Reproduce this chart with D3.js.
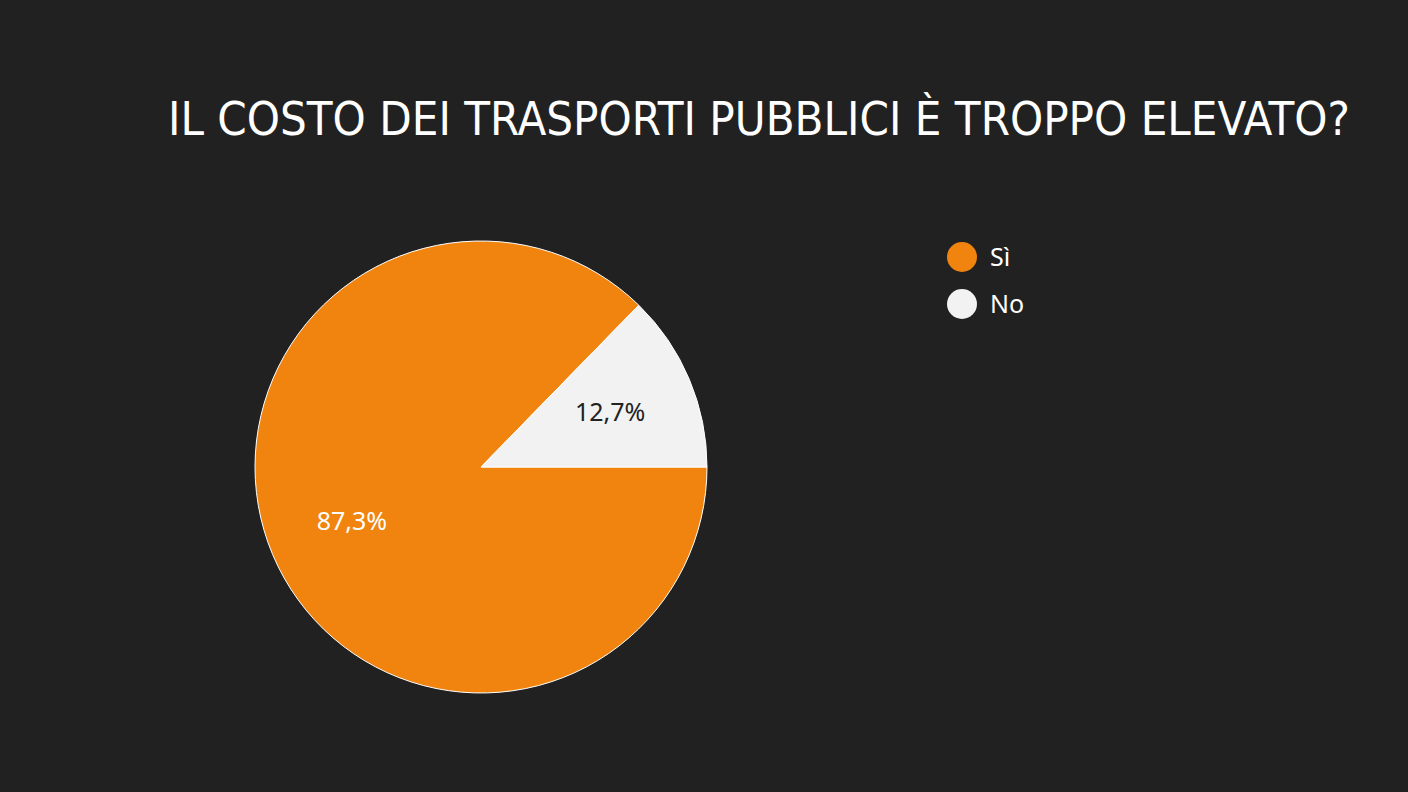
<!DOCTYPE html>
<html><head><meta charset="utf-8">
<script src="https://cdn.jsdelivr.net/npm/d3@7"></script>
<style>body{margin:0;background:#212121}</style></head>
<body><svg id="c" width="1408" height="792"></svg>
<script>
const categories=["Sì","No"];
const values=[87.3,12.7];
const labels=["87,3%","12,7%"];
const colors=["#F0840F","#F2F2F2"];
const svg=d3.select("#c");
svg.append("rect").attr("width",1408).attr("height",792).attr("fill","#212121");
svg.append("text").attr("x",168).attr("y",135).attr("fill","#fff")
 .attr("font-family","'Liberation Sans Narrow','DejaVu Sans Condensed',sans-serif")
 .attr("font-size",46).attr("textLength",1182).attr("lengthAdjust","spacingAndGlyphs")
 .text("IL COSTO DEI TRASPORTI PUBBLICI È TROPPO ELEVATO?");
const cx=481,cy=467,r=226;
const pie=d3.pie().sort(null).startAngle(Math.PI/2).endAngle(Math.PI/2+2*Math.PI);
const arcs=pie(values);
const arc=d3.arc().innerRadius(0).outerRadius(r);
const g=svg.append("g").attr("transform",`translate(${cx},${cy})`);
g.selectAll("path").data(arcs).join("path").attr("d",arc)
 .attr("fill",(d,i)=>colors[i]).attr("stroke","#fff").attr("stroke-width",1);
const la=d3.arc().innerRadius(r*0.62).outerRadius(r*0.62);
g.selectAll("text").data(arcs).join("text")
 .attr("transform",d=>`translate(${la.centroid(d)})`)
 .attr("text-anchor","middle").attr("dy","0.35em")
 .attr("font-family","'Noto Sans',sans-serif").attr("font-size",25)
 .attr("fill",(d,i)=>i===0?"#fff":"#222").text((d,i)=>labels[i]);
const lg=svg.append("g");
categories.forEach((c,i)=>{
 lg.append("circle").attr("cx",962).attr("cy",257+i*47).attr("r",15).attr("fill",colors[i]);
 lg.append("text").attr("x",990).attr("y",257+i*47).attr("dy","0.35em")
  .attr("font-family","'Noto Sans',sans-serif").attr("font-size",25).attr("fill","#fff").text(c);
});
</script></body></html>
